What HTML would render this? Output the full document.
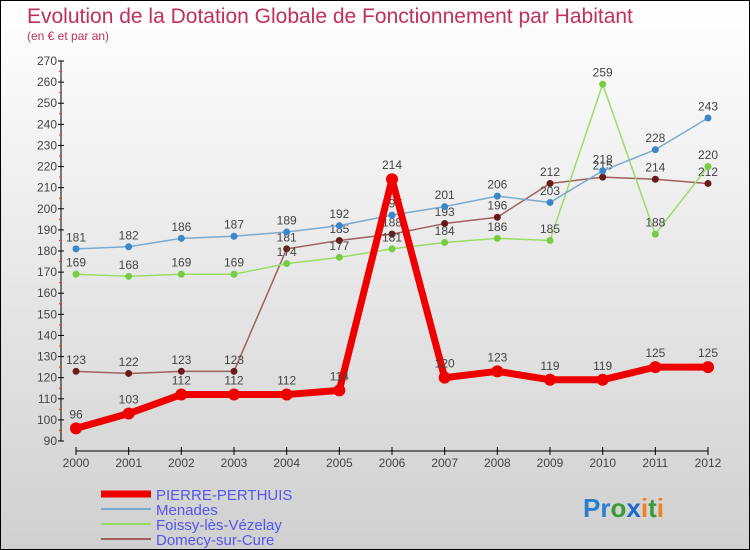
<!DOCTYPE html>
<html><head><meta charset="utf-8"><style>
body{margin:0;}
#c{position:relative;width:750px;height:550px;box-sizing:border-box;border:1px solid #000;background:linear-gradient(#fff,#d0d0d0);font-family:"Liberation Sans",sans-serif;overflow:hidden}
svg{position:absolute;left:0;top:0}
</style></head><body>
<div id="c">
<svg id="s" width="750" height="550">
<text x="26" y="22" font-size="21" fill="#c0305a">Evolution de la Dotation Globale de Fonctionnement par Habitant</text>
<text x="26" y="39" font-size="12" fill="#c0305a">(en € et par an)</text>
<g id="axes"></g><g id="series"></g>
<g>
<line x1="100" y1="493" x2="150" y2="493" stroke="#e00" stroke-width="7"/>
<text x="155" y="499" font-size="15" fill="#5555ee">PIERRE-PERTHUIS</text>
<line x1="100" y1="508" x2="150" y2="508" stroke="#7aaad0" stroke-width="2"/>
<text x="155" y="514" font-size="15" fill="#5555ee">Menades</text>
<line x1="100" y1="523" x2="150" y2="523" stroke="#99dd66" stroke-width="2"/>
<text x="155" y="529" font-size="15" fill="#5555ee">Foissy-lès-Vézelay</text>
<line x1="100" y1="538" x2="150" y2="538" stroke="#a06060" stroke-width="2"/>
<text x="155" y="544" font-size="15" fill="#5555ee">Domecy-sur-Cure</text>
</g>
<text x="582" y="516" font-size="26" font-weight="bold"><tspan fill="#2a7fd0">Pr</tspan><tspan fill="#3a9a3a">o</tspan><tspan fill="#1a6ad0">x</tspan><tspan fill="#f08020">i</tspan><tspan fill="#3a9a3a">t</tspan><tspan fill="#f08020">i</tspan></text>
</svg>
</div>
<script>
const years=[2000,2001,2002,2003,2004,2005,2006,2007,2008,2009,2010,2011,2012];
const yTicks=[90,100,110,120,130,140,150,160,170,180,190,200,210,220,230,240,250,260,270];
const pierre=[96,103,112,112,112,114,214,120,123,119,119,125,125];
const menades=[181,182,186,187,189,192,197,201,206,203,218,228,243];
const foissy=[169,168,169,169,174,177,181,184,186,185,259,188,220];
const domecy=[123,122,123,123,181,185,188,193,196,212,215,214,212];
const NS="http://www.w3.org/2000/svg";
const X=i=>75+i*(707-75)/12;
const Y=v=>440-(v-90)*(380/180);
function mk(tag,attrs,parent){const e=document.createElementNS(NS,tag);for(const k in attrs)e.setAttribute(k,attrs[k]);parent.appendChild(e);return e;}
const ax=document.getElementById('axes');
let l=mk('line',{x1:60,y1:Y(270),x2:60,y2:Y(90),stroke:'#000'},ax);


l=mk('line',{x1:75,y1:450,x2:707,y2:450,stroke:'#000'},ax);


yTicks.forEach(v=>{
 mk('line',{x1:57,x2:63,y1:Y(v),y2:Y(v),stroke:'#000'},ax);
 if(v<270)mk('line',{x1:58,x2:61,y1:Y(v+5),y2:Y(v+5),stroke:'#e33'},ax);
 const t=mk('text',{x:56,y:Y(v)+4,'text-anchor':'end','font-size':12,fill:'#444'},ax);
 t.textContent=v;
 
 
});
years.forEach((yr,i)=>{
 mk('line',{x1:X(i),x2:X(i),y1:446,y2:454,stroke:'#000'},ax);
 const t=mk('text',{x:X(i),y:466,'text-anchor':'middle','font-size':12,fill:'#444'},ax);
 t.textContent=yr;
 
 
});
const sg=document.getElementById('series');
function draw(data,color,dot,w,r,name){
 const g=mk('g',{},sg);
 
 
 mk('polyline',{points:data.map((v,i)=>X(i)+','+Y(v)).join(' '),fill:'none',stroke:color,'stroke-width':w,'stroke-linejoin':'round'},g);
 data.forEach((v,i)=>{
  const c=mk('circle',{cx:X(i),cy:Y(v),r:r,fill:dot},g);
  
  
  const t=mk('text',{x:X(i),y:Y(v)-(r+4),'text-anchor':'middle','font-size':12,fill:'#444'},g);
  t.textContent=v;
  
  
 });
}
draw(domecy,'#a06060','#6a1a1a',1.5,3.5,'domecy');
draw(foissy,'#99dd66','#77cc44',1.5,3.5,'foissy');
draw(menades,'#7aaad0','#3a88c8',1.5,3.5,'menades');
draw(pierre,'#e00','#e00',7,6,'pierre-perthuis');
</script>
</body></html>
